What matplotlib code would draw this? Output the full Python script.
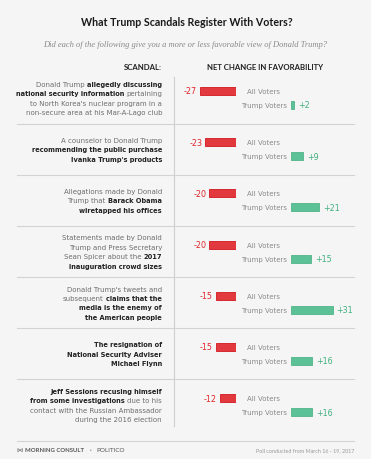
import matplotlib.pyplot as plt

plt.rcParams['font.family'] = ['DejaVu Sans']

# data
all_voters = [-27, -23, -20, -20, -15, -15, -12]
trump_voters = [2, 9, 21, 15, 31, 16, 16]

# scandal descriptions: each line is a list of (text, bold) pieces
scandals = [
    [[("Donald Trump", False), ("allegedly discussing", True)],
     [("national security information", True), ("pertaining", False)],
     [("to North Korea's nuclear program in a", False)],
     [("non-secure area at his Mar-A-Lago club", False)]],
    [[("A counselor to Donald Trump", False)],
     [("recommending the public purchase", True)],
     [("Ivanka Trump's products", True)]],
    [[("Allegations made by Donald", False)],
     [("Trump that", False), ("Barack Obama", True)],
     [("wiretapped his offices", True)]],
    [[("Statements made by Donald", False)],
     [("Trump and Press Secretary", False)],
     [("Sean Spicer about the", False), ("2017", True)],
     [("inauguration crowd sizes", True)]],
    [[("Donald Trump's tweets and", False)],
     [("subsequent", False), ("claims that the", True)],
     [("media is the enemy of", True)],
     [("the American people", True)]],
    [[("The resignation of", True)],
     [("National Security Adviser", True)],
     [("Michael Flynn", True)]],
    [[("Jeff Sessions recusing himself", True)],
     [("from some investigations", True), ("due to his", False)],
     [("contact with the Russian Ambassador", False)],
     [("during the 2016 election", False)]],
]

W, H = 371, 460
BG = '#f5f5f5'
RED = '#e2393e'
RED_EDGE = '#d3171e'
GREEN = '#5cc196'
GREEN_EDGE = '#4fb488'
TOP = 99.0      # centre of first group (px)
ROW = 51.17     # group spacing (px)
SCALE = 1.34    # px per point of favorability

fig = plt.figure(figsize=(W / 100, H / 100), dpi=100, facecolor=BG)
ax = fig.add_axes([0, 0, 1, 1])
ax.set_xlim(0, W)
ax.set_ylim(H, 0)
ax.axis('off')

renderer = fig.canvas.get_renderer()

def width_of(s, size, **kw):
    t = ax.text(0, 0, s, fontsize=size, **kw)
    w = t.get_window_extent(renderer).width
    t.remove()
    return w

def fit(s, target, **kw):
    # font size giving the wanted pixel width
    return 10 * target / width_of(s, 10, **kw)

title = "What Trump Scandals Register With Voters?"
sub = "Did each of the following give you a more or less favorable view of Donald Trump?"
ax.text(W / 2 + 1, 22, title, ha='center', va='center',
        fontsize=fit(title, 213, fontweight='bold', family='Lato'),
        fontweight='bold', color='#1a1a1a', family='Lato')
ax.text(W / 2, 45, sub, ha='center', va='center',
        fontsize=fit(sub, 285, style='italic', family='Liberation Serif'),
        style='italic', color='#8a8a8a', family='Liberation Serif')
ax.text(162, 67.5, "SCANDAL:", ha='right', va='center', fontsize=5.6,
        fontweight='bold', color='#222222', family='Lato')
ax.text(207, 67.5, "NET CHANGE IN FAVORABILITY", ha='left', va='center', fontsize=5.6,
        fontweight='bold', color='#222222', family='Lato')

# frame lines
ax.plot([174, 174], [78, 427], color='#cfcfcf', lw=0.8)
for i in range(len(scandals) - 1):
    ys = TOP + ROW * (i + 0.5)
    ax.plot([17, 354], [ys, ys], color='#d3d3d3', lw=0.8)
ax.plot([17, 354], [442, 442], color='#d3d3d3', lw=0.8)

REG = fit("non-secure area at his Mar-A-Lago club", 137)
space = width_of("a a", REG) - width_of("aa", REG)
BOLD = fit("Jeff Sessions recusing himself National Security Adviser recommending the public purchase",
           340 + 2 * space, fontweight='bold')
LINE = 9.4

for i, lines in enumerate(scandals):
    c = TOP + ROW * i
    y0 = c - LINE * (len(lines) - 1) / 2
    for k, segs in enumerate(lines):
        y = y0 + LINE * k
        right = 162
        for txt, bold in reversed(segs):
            t = ax.text(right, y, txt, ha='right', va='center',
                        fontsize=BOLD if bold else REG,
                        fontweight='bold' if bold else 'normal',
                        color='#222222' if bold else '#6e6e6e')
            right -= t.get_window_extent(renderer).width + space

LAB = fit("Trump Voters", 46)
NUM = fit("-27", 13)
for i in range(len(scandals)):
    c = TOP + ROW * i
    ax.text(247, c - 7, "All Voters", ha='left', va='center', fontsize=LAB, color='#8a8a8a')
    ax.text(287, c + 7, "Trump Voters", ha='right', va='center', fontsize=LAB, color='#8a8a8a')

# bar axes, y in group units
ylim = ((H - TOP) / ROW, -TOP / ROW)
off = 7 / ROW
bh = 8 / ROW
idx = list(range(len(all_voters)))

ax_red = fig.add_axes([170 / W, 0, 66 / W, 1])
ax_red.set_xlim(-66 / SCALE, 0)
ax_red.set_ylim(*ylim)
ax_red.axis('off')
ax_red.barh([i - off for i in idx], all_voters, height=bh, color=RED, edgecolor=RED_EDGE, lw=0.6)
for i, v in enumerate(all_voters):
    ax_red.annotate(str(v), (v, i - off), xytext=(-3, 0), textcoords='offset pixels',
                    ha='right', va='center', fontsize=NUM, color='#e0262b',
                    annotation_clip=False)

ax_green = fig.add_axes([291 / W, 0, 70 / W, 1])
ax_green.set_xlim(0, 70 / SCALE)
ax_green.set_ylim(*ylim)
ax_green.axis('off')
ax_green.barh([i + off for i in idx], trump_voters, height=bh, color=GREEN, edgecolor=GREEN_EDGE, lw=0.6)
for i, v in enumerate(trump_voters):
    ax_green.annotate("+" + str(v), (v, i + off), xytext=(4, 0), textcoords='offset pixels',
                      ha='left', va='center', fontsize=NUM, color='#3fb07f',
                      annotation_clip=False)

# footer
ax.text(16, 451, "\u22c8", ha='left', va='center', fontsize=4.5, color='#555555',
        family=['DejaVu Sans'])
ax.text(25, 451, "MORNING CONSULT", ha='left', va='center', fontsize=4.3,
        fontweight='bold', color='#555555', family='Lato')
ax.text(88, 451, "\u2022", ha='left', va='center', fontsize=4, color='#999999')
ax.text(96, 451, "POLITICO", ha='left', va='center', fontsize=4.6, color='#555555', family='Lato')
ax.text(354, 451, "Poll conducted from March 16 - 19, 2017", ha='right', va='center',
        fontsize=3.9, color='#999999', family='Lato')

fig.savefig("out.png", dpi=100, facecolor=BG)
